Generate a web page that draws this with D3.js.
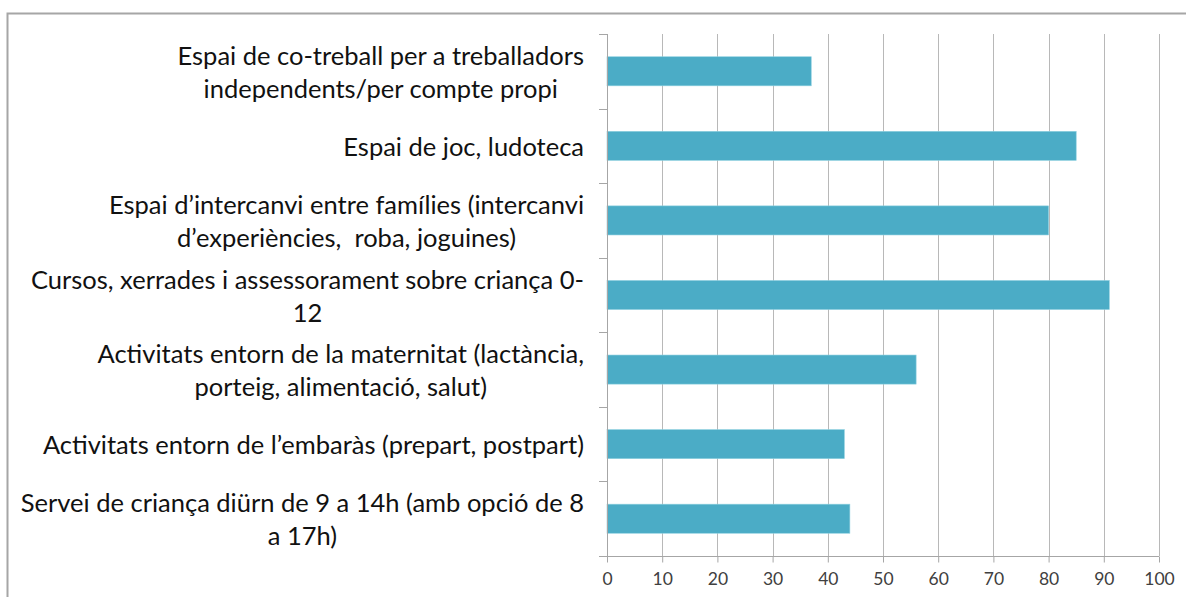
<!DOCTYPE html>
<html>
<head>
<meta charset="utf-8">
<script src="https://cdn.jsdelivr.net/npm/d3@7"></script>
<style>
  html, body { margin: 0; padding: 0; background: #fff; }
  svg { display: block; }
</style>
</head>
<body>
<svg id="chart"></svg>
<script>
// category labels, already split into the lines shown in the chart
const categories = [
    ["Espai de co-treball per a treballadors", "independents/per compte propi"],
    ["Espai de joc, ludoteca"],
    ["Espai d\u2019intercanvi entre famílies (intercanvi", "d\u2019experiències,\u00a0 roba, joguines)"],
    ["Cursos, xerrades i assessorament sobre criança 0-", "12"],
    ["Activitats entorn de la maternitat (lactància,", "porteig, alimentació, salut)"],
    ["Activitats entorn de l\u2019embaràs (prepart, postpart)"],
    ["Servei de criança diürn de 9 a 14h (amb opció de 8", "a 17h)"]
];
const values = [37, 85, 80, 91, 56, 43, 44];
const xTicks = [0, 10, 20, 30, 40, 50, 60, 70, 80, 90, 100];

const width = 1186, height = 597;
const margin = {top: 34, right: 27, bottom: 41, left: 607};

const svg = d3.select('#chart')
    .attr('width', width)
    .attr('height', height);

// outer frame of the chart area
svg.append('rect')
    .attr('x', 7.5).attr('y', 13.5)
    .attr('width', width + 10).attr('height', height + 10)
    .attr('fill', 'none')
    .attr('stroke', '#a6a6a6')
    .attr('stroke-width', 2);

const xScale = d3.scaleLinear()
    .domain([0, 100])
    .range([margin.left, width - margin.right]);

const yScale = d3.scaleBand()
    .domain(d3.range(categories.length))
    .range([margin.top, height - margin.bottom])
    .paddingInner(0.61)
    .paddingOuter(0.305);

const yEdge = d3.scaleLinear()
    .domain([0, categories.length])
    .range([margin.top, height - margin.bottom]);

// vertical gridlines
svg.append('g').selectAll('line')
    .data(xTicks.slice(1))
    .join('line')
    .attr('x1', d => Math.round(xScale(d)) + 0.5)
    .attr('x2', d => Math.round(xScale(d)) + 0.5)
    .attr('y1', margin.top)
    .attr('y2', height - margin.bottom)
    .attr('stroke', '#b8b8b8')
    .attr('stroke-width', 1);

// bars
svg.append('g').selectAll('rect')
    .data(values)
    .join('rect')
    .attr('x', xScale(0))
    .attr('y', (d, i) => yScale(i))
    .attr('width', d => xScale(d) - xScale(0))
    .attr('height', yScale.bandwidth())
    .attr('fill', '#4bacc6')
    .attr('stroke', '#8fd0e0')
    .attr('stroke-width', 0.6);

// y axis with category separators
const yAxis = svg.append('g');
yAxis.append('line')
    .attr('x1', Math.round(xScale(0)) + 0.5).attr('x2', Math.round(xScale(0)) + 0.5)
    .attr('y1', margin.top).attr('y2', height - margin.bottom)
    .attr('stroke', '#a6a6a6');
yAxis.selectAll('.sep')
    .data(d3.range(categories.length + 1))
    .join('line')
    .attr('class', 'sep')
    .attr('x1', xScale(0) - 8).attr('x2', xScale(0))
    .attr('y1', d => Math.round(yEdge(d)) + 0.5)
    .attr('y2', d => Math.round(yEdge(d)) + 0.5)
    .attr('stroke', '#a6a6a6');

// x axis
const xAxis = svg.append('g')
    .attr('transform', `translate(0,${Math.round(height - margin.bottom) + 0.5})`)
    .call(d3.axisBottom(xScale).tickValues(xTicks).tickSize(6).tickPadding(10).tickSizeOuter(0));
xAxis.select('.domain').attr('stroke', '#a6a6a6').attr('d', `M${xScale(0) - 8},0H${xScale(100)}`);
xAxis.selectAll('.tick line').attr('stroke', '#a6a6a6');
xAxis.selectAll('.tick text')
    .attr('fill', '#404040')
    .style('font-family', 'Lato, "Open Sans", sans-serif')
    .style('font-size', '17.5px');

// category labels: lines centered on each other, block right aligned
const labelRight = 584;
const lineHeight = 33;
const labels = svg.append('g')
    .style('font-family', 'Lato, "Open Sans", sans-serif')
    .style('font-size', '25.5px')
    .attr('fill', '#111');

categories.forEach((lines, i) => {
    const g = labels.append('g');
    const centre = yScale(i) + yScale.bandwidth() / 2;
    const texts = g.selectAll('text')
        .data(lines)
        .join('text')
        .attr('text-anchor', 'middle')
        .attr('dominant-baseline', 'central')
        .attr('y', (d, j) => centre + (j - (lines.length - 1) / 2) * lineHeight)
        .text(d => d);
    let maxW = 0;
    texts.each(function() { maxW = Math.max(maxW, this.getComputedTextLength()); });
    texts.attr('x', labelRight - maxW / 2);
});
</script>
</body>
</html>
